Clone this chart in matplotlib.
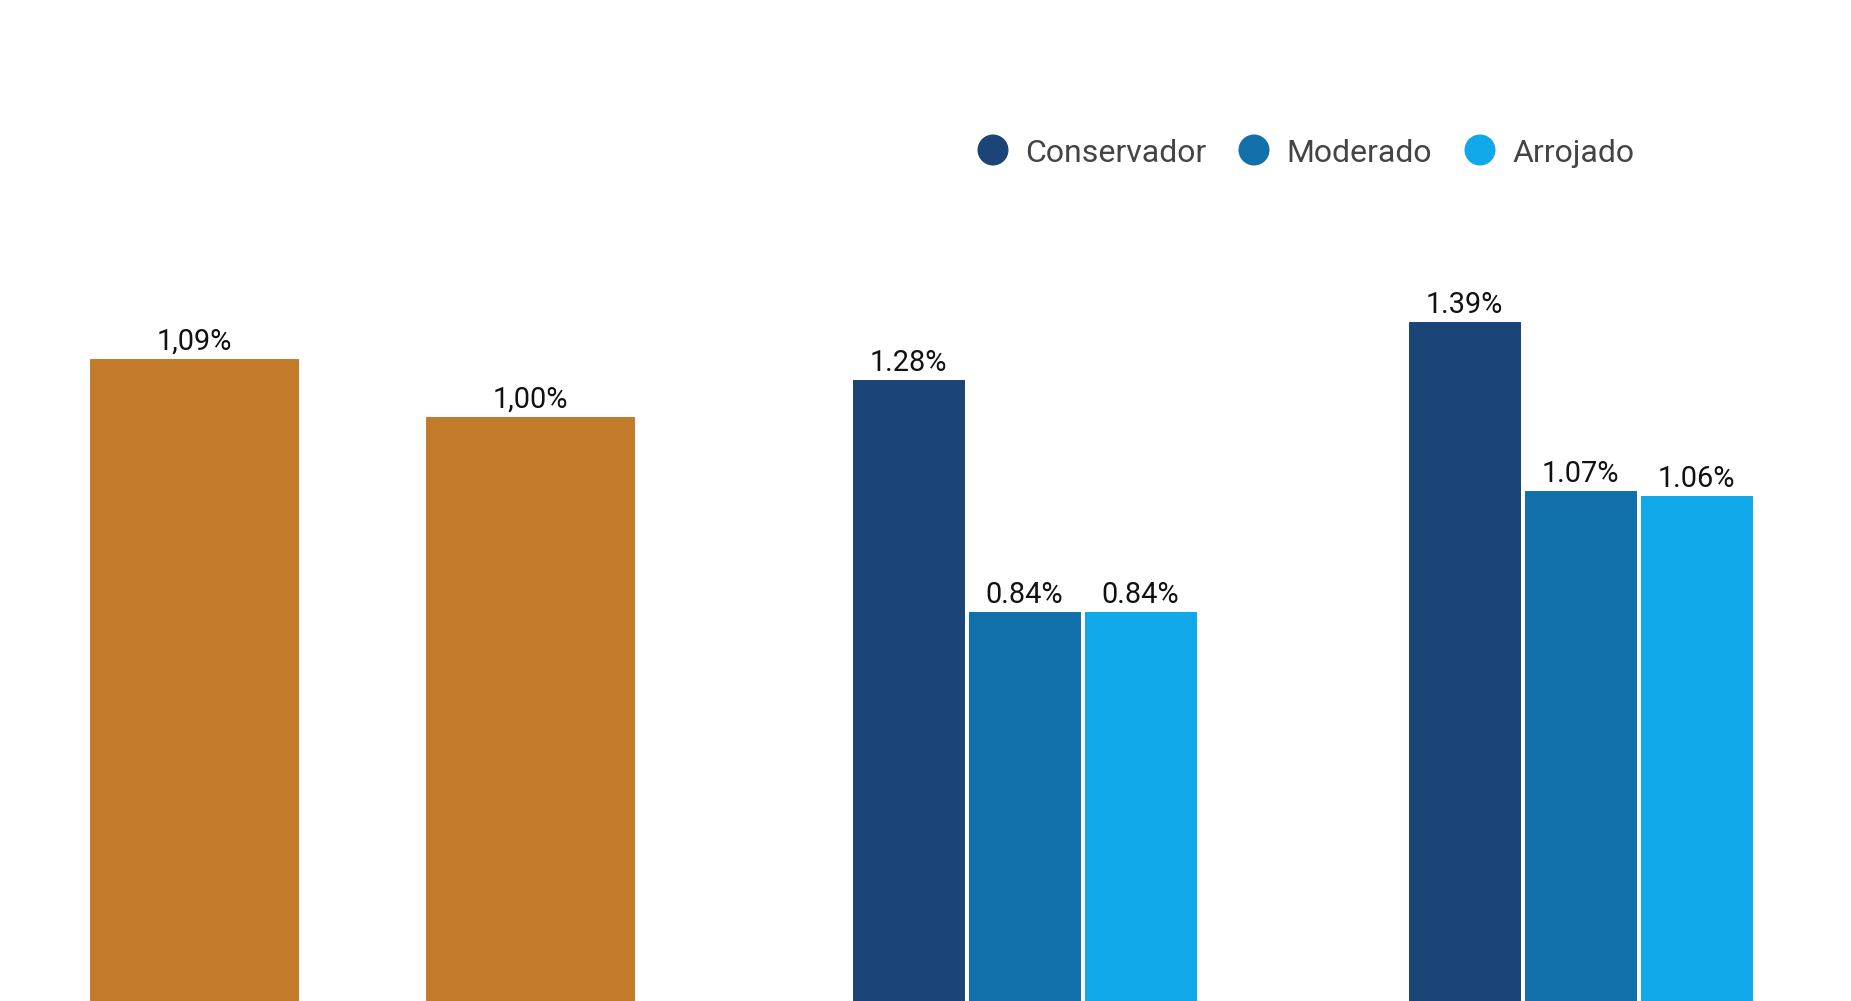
import numpy as np
import matplotlib
matplotlib.use("Agg")
import matplotlib.pyplot as plt

plt.rcParams['font.family'] = ['Roboto', 'DejaVu Sans']

# left chart (orange, comma decimals)
orange_vals = [1.09, 1.00]
orange_color = "#C27B2B"

# right chart (grouped by profile)
series = ["Conservador", "Moderado", "Arrojado"]
series_colors = ["#1B4577", "#1170A9", "#10A8E8"]
group_vals = {
    "Conservador": [1.28, 1.39],
    "Moderado": [0.84, 1.07],
    "Arrojado": [0.84, 1.06],
}

W, H = 1851, 1001
fig = plt.figure(figsize=(W / 100, H / 100), dpi=100)
fig.patch.set_facecolor("white")

# left axes
axl = fig.add_axes([26 / W, 0, 672 / W, 1])
xl = np.arange(len(orange_vals))
bars = axl.bar(xl, orange_vals, width=0.618, color=orange_color,
               edgecolor=orange_color, linewidth=0.7, joinstyle="round")
axl.set_xlim(-0.5, 1.5)
axl.set_ylim(0.0932, 1.6475)
for b, v in zip(bars, orange_vals):
    axl.annotate(f"{v:.2f}".replace(".", ",") + "%",
                 (b.get_x() + b.get_width() / 2, v),
                 xytext=(0, 2.5), textcoords="offset points",
                 ha="center", va="bottom", fontsize=20.8, color="#111111")
axl.axis("off")

# right axes
axr = fig.add_axes([720 / W, 0, 1131 / W, 1])
xr = np.arange(2)
bw = 0.200
step = 0.2086
for i, (name, col) in enumerate(zip(series, series_colors)):
    vals = group_vals[name]
    bs = axr.bar(xr + (i - 1) * step, vals, width=bw, color=col,
                 edgecolor=col, linewidth=0.7, joinstyle="round")
    for b, v in zip(bs, vals):
        axr.annotate(f"{v:.2f}%", (b.get_x() + b.get_width() / 2, v),
                     xytext=(0, 2.5), textcoords="offset points",
                     ha="center", va="bottom", fontsize=20.8, color="#111111")
axr.set_xlim(-0.547, 1.487)
axr.set_ylim(0.1025, 2.0019)
axr.axis("off")

# legend, drawn in pixel coordinates on an overlay
axo = fig.add_axes([0, 0, 1, 1])
axo.set_xlim(0, W)
axo.set_ylim(H, 0)
axo.axis("off")
leg_x = [993, 1254, 1480]
for name, col, lx in zip(series, series_colors, leg_x):
    axo.scatter([lx], [150], s=(31 * 0.72) ** 2, color=col, edgecolors="none")
    axo.text(lx + 32, 150, name, fontsize=23, color="#444444",
             ha="left", va="center_baseline")

fig.savefig("out.png", dpi=100, facecolor="white")
